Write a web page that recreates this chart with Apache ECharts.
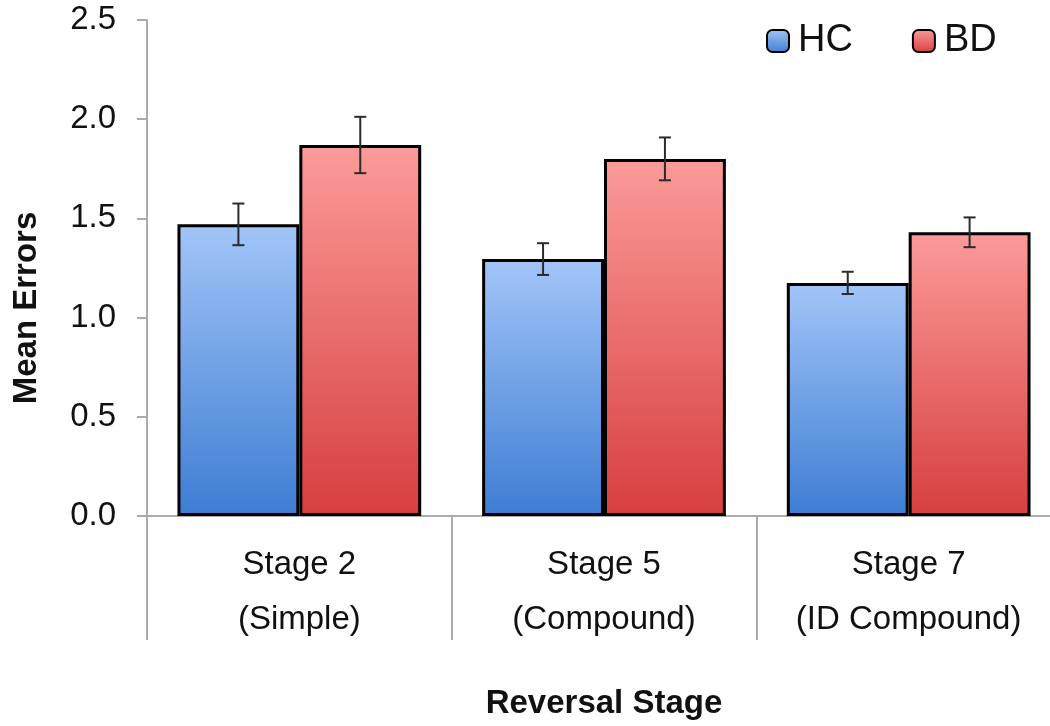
<!DOCTYPE html>
<html>
<head>
<meta charset="utf-8">
<script src="https://cdn.jsdelivr.net/npm/echarts@6/dist/echarts.min.js"></script>
<style>
  html, body { margin: 0; padding: 0; background: #fff; overflow: hidden; }
  /* plot area runs past the right edge in the original, so the canvas is a bit wider than the window */
  #chart { width: 1075px; height: 726px; }
</style>
</head>
<body>
<div id="chart"></div>
<script>
// data
var stageNames = ["Stage 2", "Stage 5", "Stage 7"];
var stageTypes = ["(Simple)", "(Compound)", "(ID Compound)"];
var seriesNames = ["HC", "BD"];
var hcMeans = [1.47, 1.295, 1.175];
var hcErrors = [0.105, 0.08, 0.056];
var bdMeans = [1.87, 1.80, 1.43];
var bdErrors = [0.142, 0.108, 0.075];
var yTicks = [0, 0.5, 1.0, 1.5, 2.0, 2.5];

var categories = stageNames.map(function (s, i) { return s + "\n" + stageTypes[i]; });

var FONT = "Liberation Sans, Arial, sans-serif";
var GRAY = "#ababab";
var CATEGORY_GAP = 0.2;

function grad(top, bottom) {
  return new echarts.graphic.LinearGradient(0, 0, 0, 1, [
    { offset: 0, color: top },
    { offset: 1, color: bottom }
  ]);
}

function errorData(means, errs) {
  return means.map(function (m, i) { return [i, m - errs[i], m + errs[i]]; });
}

// side: -1 for the left bar of a pair, +1 for the right one
function errorBarRenderer(side) {
  return function (params, api) {
    var idx = api.value(0);
    var lo = api.coord([idx, api.value(1)]);
    var hi = api.coord([idx, api.value(2)]);
    var barW = api.size([1, 0])[0] * (1 - CATEGORY_GAP) / 2;
    var x = lo[0] + side * barW / 2;
    var cap = 6;
    var style = { stroke: "#2b2b2b", lineWidth: 2 };
    return {
      type: "group",
      children: [
        { type: "line", shape: { x1: x, y1: hi[1], x2: x, y2: lo[1] }, style: style },
        { type: "line", shape: { x1: x - cap, y1: hi[1], x2: x + cap, y2: hi[1] }, style: style },
        { type: "line", shape: { x1: x - cap, y1: lo[1], x2: x + cap, y2: lo[1] }, style: style }
      ]
    };
  };
}

var chart = echarts.init(document.getElementById("chart"));

chart.setOption({
  animation: false,
  backgroundColor: "#fff",
  textStyle: { fontFamily: FONT },
  legend: {
    data: seriesNames,
    left: 761,
    top: 17,
    itemWidth: 22,
    itemHeight: 22,
    itemGap: 59,
    icon: "roundRect",
    textStyle: { fontSize: 38, color: "#111", fontFamily: FONT, padding: [0, 0, 0, 4] }
  },
  grid: {
    left: 147,
    top: 20,
    bottom: 210,
    width: 914,
    containLabel: false
  },
  xAxis: {
    type: "category",
    data: categories,
    name: "Reversal Stage",
    nameLocation: "middle",
    nameGap: 171,
    nameTextStyle: { fontSize: 33, fontWeight: "bold", color: "#111", fontFamily: FONT },
    axisLine: { show: true, lineStyle: { color: GRAY, width: 2 } },
    axisTick: { show: true, length: 124, alignWithLabel: false, lineStyle: { color: GRAY, width: 2 } },
    axisLabel: {
      fontSize: 33,
      color: "#111",
      lineHeight: 55,
      margin: 21,
      fontFamily: FONT
    },
    splitLine: { show: false }
  },
  yAxis: {
    type: "value",
    min: yTicks[0],
    max: yTicks[yTicks.length - 1],
    interval: 0.5,
    name: "Mean Errors",
    nameLocation: "middle",
    nameGap: 104,
    nameRotate: 90,
    nameTextStyle: { fontSize: 33, fontWeight: "bold", color: "#111", fontFamily: FONT, padding: [0, 80, 0, 0] },
    axisLine: { show: true, lineStyle: { color: GRAY, width: 2 } },
    axisTick: { show: true, length: 10, lineStyle: { color: GRAY, width: 2 } },
    axisLabel: {
      fontSize: 33,
      color: "#111",
      margin: 31,
      fontFamily: FONT,
      formatter: function (v) { return v.toFixed(1); }
    },
    splitLine: { show: false }
  },
  series: [
    {
      name: seriesNames[0],
      type: "bar",
      data: hcMeans,
      barGap: "0%",
      barCategoryGap: (CATEGORY_GAP * 100) + "%",
      itemStyle: { color: grad("#a2c5f8", "#3e7dd3"), borderColor: "#000", borderWidth: 3 }
    },
    {
      name: seriesNames[1],
      type: "bar",
      data: bdMeans,
      barGap: "0%",
      barCategoryGap: (CATEGORY_GAP * 100) + "%",
      itemStyle: { color: grad("#fb9b99", "#d63f3f"), borderColor: "#000", borderWidth: 3 }
    },
    {
      type: "custom",
      renderItem: errorBarRenderer(-1),
      data: errorData(hcMeans, hcErrors),
      z: 10,
      silent: true
    },
    {
      type: "custom",
      renderItem: errorBarRenderer(1),
      data: errorData(bdMeans, bdErrors),
      z: 10,
      silent: true
    }
  ]
});
</script>
</body>
</html>
